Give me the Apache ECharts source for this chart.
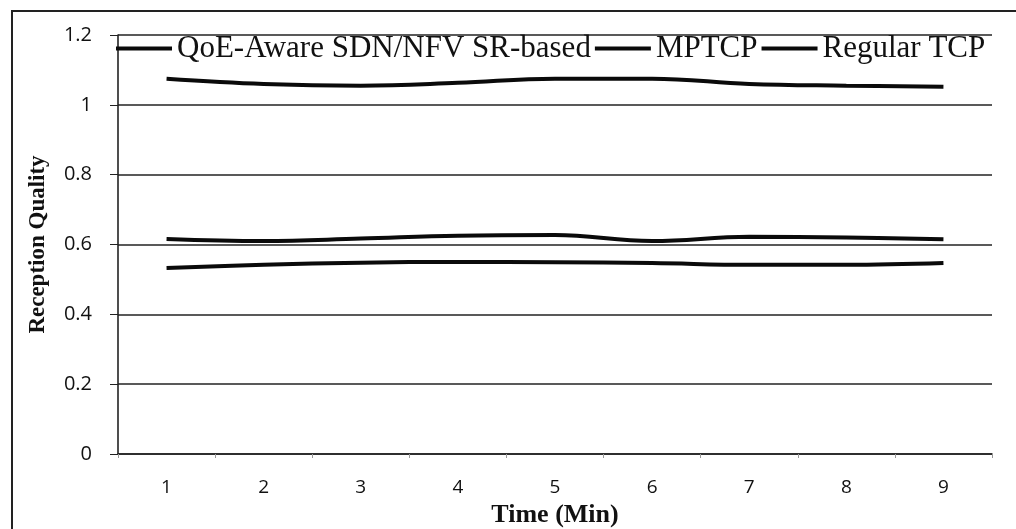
<!DOCTYPE html>
<html>
<head>
    <meta charset="utf-8"/>
    <title>Reception Quality</title>
    <script src="https://cdn.jsdelivr.net/npm/echarts@6/dist/echarts.min.js"></script>
    <style>
        html, body { margin: 0; padding: 0; background: #fff; }
        #frame { position: absolute; left: 11px; top: 10px; width: 1010px; height: 530px;
                 border-left: 2px solid #222; border-top: 2px solid #222; }
        #main { position: absolute; left: 0; top: 0; width: 1016px; height: 529px; }
    </style>
</head>
<body>
<div id="frame"></div>
<div id="main"></div>
<script type="text/javascript">
    var minutes = ['1', '2', '3', '4', '5', '6', '7', '8', '9']
    var seriesNames = ['QoE-Aware SDN/NFV SR-based', 'MPTCP', 'Regular TCP']
    var qoeAware = [1.075, 1.06, 1.055, 1.063, 1.075, 1.075, 1.06, 1.055, 1.052]
    var mptcp = [0.616, 0.61, 0.617, 0.625, 0.627, 0.61, 0.622, 0.62, 0.615]
    var regularTcp = [0.533, 0.542, 0.548, 0.55, 0.549, 0.547, 0.542, 0.542, 0.547]

    var serif = '"Liberation Serif", "DejaVu Serif", serif'
    var sans = '"Open Sans", "DejaVu Sans", sans-serif'

    function lineSeries(name, values) {
        return {
            name: name,
            type: 'line',
            data: values,
            smooth: 0.4,
            symbol: 'none',
            lineStyle: { color: '#0a0a0a', width: 4 },
            itemStyle: { color: '#0a0a0a' }
        }
    }

    var myChart = echarts.init(document.getElementById('main'))
    myChart.setOption({
        animation: false,
        grid: { left: 118, right: 24, top: 35, bottom: 75, containLabel: false, outerBoundsMode: 'none' },
        legend: {
            data: seriesNames,
            left: 116,
            top: 33,
            itemWidth: 56,
            itemHeight: 4,
            itemGap: 4,
            icon: 'rect',
            padding: 0,
            textStyle: { fontFamily: serif, fontSize: 31, color: '#111' }
        },
        xAxis: {
            type: 'category',
            data: minutes,
            boundaryGap: true,
            name: 'Time (Min)',
            nameLocation: 'middle',
            nameGap: 46,
            nameTextStyle: { fontFamily: serif, fontSize: 26, fontWeight: 'bold', color: '#111' },
            axisLine: { lineStyle: { color: '#222', width: 1.6 } },
            axisTick: { show: true, length: 4, lineStyle: { color: '#999' } },
            axisLabel: { fontFamily: sans, fontSize: 19, color: '#111', margin: 24 }
        },
        yAxis: {
            type: 'value',
            min: 0,
            max: 1.2,
            interval: 0.2,
            name: 'Reception Quality',
            nameLocation: 'middle',
            nameGap: 68,
            nameTextStyle: { fontFamily: serif, fontSize: 23, fontWeight: 'bold', color: '#111' },
            axisLine: { show: true, lineStyle: { color: '#222', width: 1.6 } },
            axisTick: { show: true, length: 8, lineStyle: { color: '#222' } },
            splitLine: { lineStyle: { color: '#222', width: 1.5 } },
            axisLabel: {
                fontFamily: sans, fontSize: 20, color: '#111', margin: 26,
                formatter: function (v) { return String(Math.round(v * 10) / 10) }
            }
        },
        series: [
            lineSeries(seriesNames[0], qoeAware),
            lineSeries(seriesNames[1], mptcp),
            lineSeries(seriesNames[2], regularTcp)
        ]
    })
</script>
</body>
</html>
